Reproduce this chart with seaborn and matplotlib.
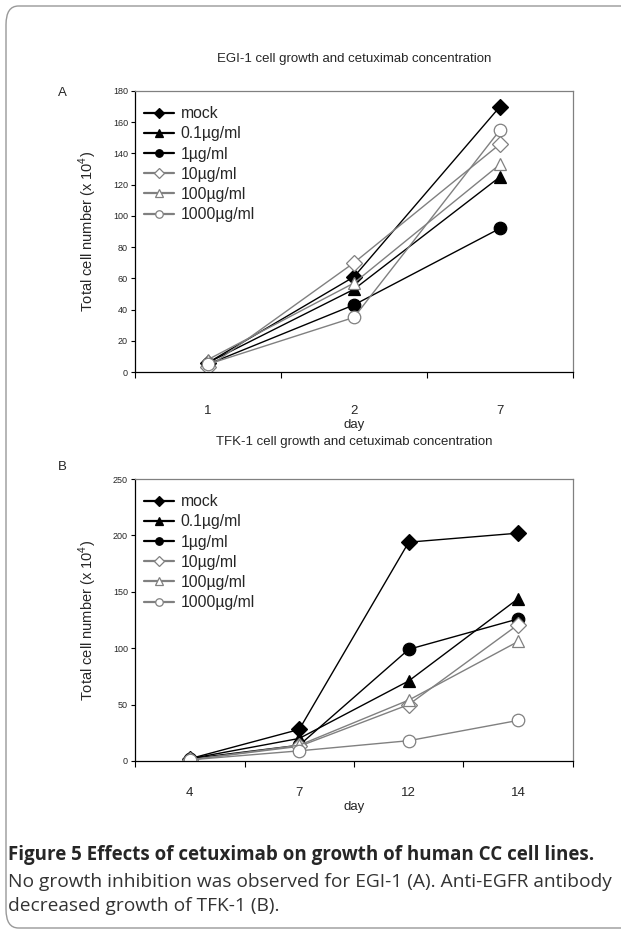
import matplotlib
matplotlib.use("Agg")
import matplotlib.pyplot as plt
from matplotlib.patches import FancyBboxPatch
import seaborn as sns

sns.set_style("white")
plt.rcParams['font.family'] = ['Liberation Sans', 'DejaVu Sans']
plt.rcParams['mathtext.fontset'] = 'custom'
plt.rcParams['mathtext.rm'] = 'Liberation Sans'

# Data
series_names = ["mock", "0.1µg/ml", "1µg/ml", "10µg/ml", "100µg/ml", "1000µg/ml"]
days_a = ["1", "2", "7"]
egi1_mock = [6, 61, 170]
egi1_01 = [6, 53, 125]
egi1_1 = [5, 43, 92]
egi1_10 = [3, 70, 146]
egi1_100 = [8, 57, 133]
egi1_1000 = [5, 35, 155]

days_b = ["4", "7", "12", "14"]
tfk1_mock = [2, 28, 194, 202]
tfk1_01 = [2, 20, 71, 144]
tfk1_1 = [2, 14, 99, 126]
tfk1_10 = [1, 13, 50, 121]
tfk1_100 = [1, 14, 54, 106]
tfk1_1000 = [1, 9, 18, 36]

GRAY = "#808080"
styles = [
    dict(marker="D", color="black", mfc="black", mec="black", ms=8),
    dict(marker="^", color="black", mfc="black", mec="black", ms=9),
    dict(marker="o", color="black", mfc="black", mec="black", ms=9),
    dict(marker="D", color=GRAY, mfc="white", mec=GRAY, ms=8),
    dict(marker="^", color=GRAY, mfc="white", mec=GRAY, ms=9),
    dict(marker="o", color=GRAY, mfc="white", mec=GRAY, ms=9),
]


def draw_panel(ax, days, series, ymax, ystep, title, title_pad, xpad):
    for name, vals, st in zip(series_names, series, styles):
        sns.lineplot(x=days, y=vals, ax=ax, sort=False, label=name,
                     color=st["color"], marker=st["marker"], markersize=st["ms"],
                     markerfacecolor=st["mfc"], markeredgecolor=st["mec"],
                     markeredgewidth=0.9, linewidth=1.0)
    n = len(days)
    ax.set_xlim(-0.5, n - 0.5)
    ax.set_ylim(0, ymax)
    ax.set_yticks(range(0, ymax + 1, ystep))
    ax.set_xticks(range(n))
    ax.set_xticklabels(days, fontsize=9.5)
    ax.set_xticks([i + 0.5 for i in range(-1, n)], minor=True)
    ax.tick_params(axis="x", which="major", length=0, pad=xpad)
    ax.tick_params(axis="x", which="minor", length=4, width=0.8, color="black", direction="out", bottom=True)
    ax.tick_params(axis="y", length=3, width=0.8, color="black", direction="out", labelsize=6.5, left=True, pad=2)
    for side in ["left", "bottom"]:
        ax.spines[side].set_color("black")
        ax.spines[side].set_linewidth(0.9)
    for side in ["top", "right"]:
        ax.spines[side].set_color(GRAY)
        ax.spines[side].set_linewidth(0.9)
    ax.set_xlabel("day", fontsize=9.5, labelpad=1)
    ax.set_ylabel("Total cell number (x 10$^4$)", fontsize=10.5, labelpad=10)
    ax.set_title(title, fontsize=9.5, pad=title_pad)
    leg = ax.legend(loc="upper left", bbox_to_anchor=(-0.012, 0.996), frameon=False,
                    fontsize=11.3, handlelength=1.9, handletextpad=0.45, labelspacing=0.33,
                    markerscale=0.6, borderaxespad=0.5)
    for line in leg.get_lines():
        line.set_linewidth(1.6)
    return leg


fig = plt.figure(figsize=(6.21, 9.35), dpi=100)
ax_a = fig.add_axes([0.2174, 0.6021, 0.7053, 0.3006])
ax_b = fig.add_axes([0.2174, 0.1861, 0.7053, 0.3016])

draw_panel(ax_a, days_a, [egi1_mock, egi1_01, egi1_1, egi1_10, egi1_100, egi1_1000],
           180, 20, "EGI-1 cell growth and cetuximab concentration", 21, 24)
draw_panel(ax_b, days_b, [tfk1_mock, tfk1_01, tfk1_1, tfk1_10, tfk1_100, tfk1_1000],
           250, 50, "TFK-1 cell growth and cetuximab concentration", 24.5, 19)

fig.text(58 / 621, 1 - 93 / 935, "A", fontsize=9.5, ha="left", va="center")
fig.text(58 / 621, 1 - 467 / 935, "B", fontsize=9.5, ha="left", va="center")

# frame around figure
frame = FancyBboxPatch((6 / 621, 7 / 935), 630 / 621, 922 / 935,
                       boxstyle="round,pad=0,rounding_size=0.02",
                       transform=fig.transFigure, facecolor="none",
                       edgecolor="#999999", linewidth=1.0)
fig.patches.append(frame)

cap_font = ["Open Sans", "DejaVu Sans"]
fig.text(8 / 621, 1 - 855 / 935, "Figure 5 Effects of cetuximab on growth of human CC cell lines.",
         fontsize=13.5, fontweight="bold", family=cap_font, va="center")
fig.text(8 / 621, 1 - 882 / 935, "No growth inhibition was observed for EGI-1 (A). Anti-EGFR antibody",
         fontsize=13.8, family=cap_font, va="center", color="#333333")
fig.text(8 / 621, 1 - 906 / 935, "decreased growth of TFK-1 (B).",
         fontsize=13.8, family=cap_font, va="center", color="#333333")

fig.savefig("out.png", dpi=100)
